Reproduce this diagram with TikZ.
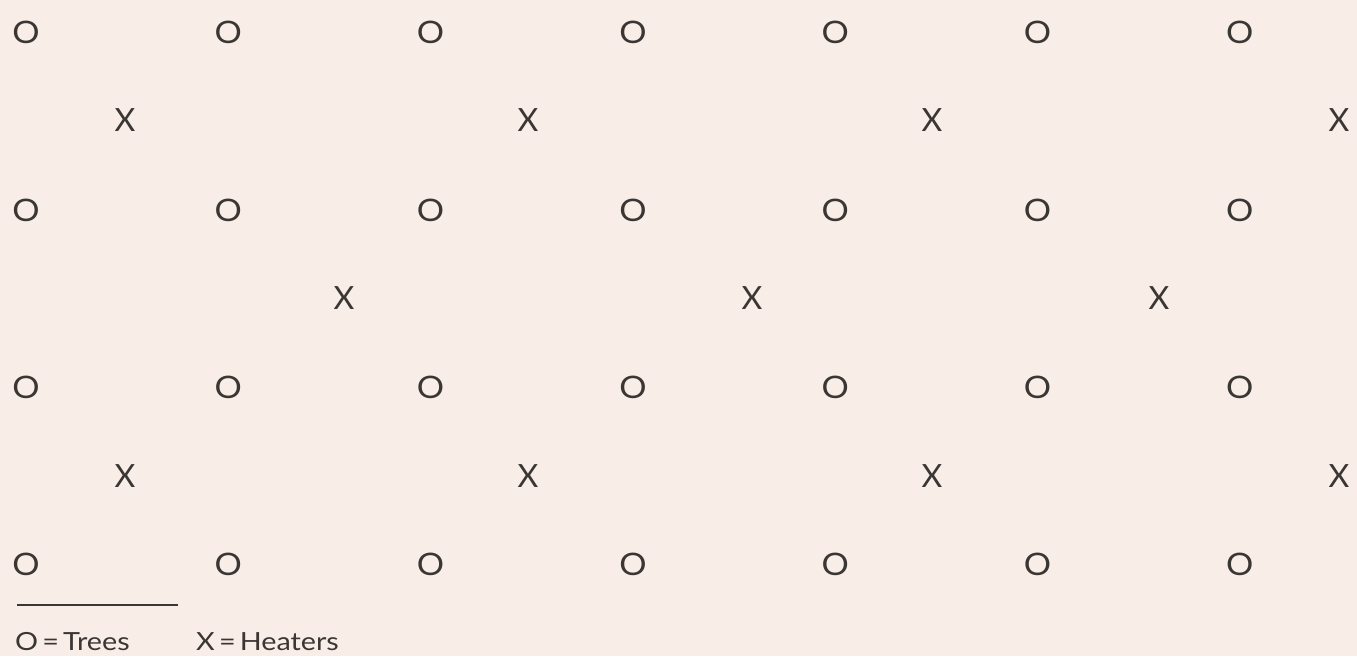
\documentclass[tikz,border=0pt]{standalone}
\usepackage{fontspec}
\setmainfont{Lato}
\newfontfamily\keyfont{Lato}[FakeStretch=1.15]
\usetikzlibrary{positioning}
\definecolor{paper}{HTML}{F9EDE7}
\definecolor{ink}{HTML}{3A3633}

\begin{document}
\begin{tikzpicture}[x=1pt, y=-1pt,
  tree/.style={font=\fontsize{31}{31}\selectfont, text=ink, inner sep=0pt, xscale=1.1},
  heater/.style={font=\fontsize{32}{32}\selectfont, text=ink, inner sep=0pt},
  legend/.style={font=\keyfont\fontsize{25}{25}\selectfont, text=ink, inner sep=0pt, anchor=west},
  rule/.style={draw=ink, line width=1.3pt},
]
  \fill[paper] (0,0) rectangle (1357,656);
  \useasboundingbox (0,0) rectangle (1357,656);

  % rows of trees
  \foreach \r/\y in {1/32, 2/210, 3/387, 4/564}
    \foreach \c in {0,...,6}
      \node[tree] (tree-\r-\c) at ({26+202.3*\c}, \y) {O};

  % heaters between the rows
  \foreach \c/\x in {1/125, 2/528, 3/932, 4/1339} {
    \node[heater] (heater-1-\c) at (\x, 120) {X};
    \node[heater] (heater-3-\c) at (\x, 476) {X};
  }
  \foreach \c/\x in {1/344, 2/752, 3/1159}
    \node[heater] (heater-2-\c) at (\x, 298) {X};

  % key
  \coordinate (rule-l) at (17,605);
  \coordinate (rule-r) at (178,605);
  \draw[rule] (rule-l) -- (rule-r);
  \node[legend] (key-tree) at (15,642) {O\,=\,Trees};
  \node[legend] (key-heater) at (196,642) {X\,=\,Heaters};
\end{tikzpicture}
\end{document}
